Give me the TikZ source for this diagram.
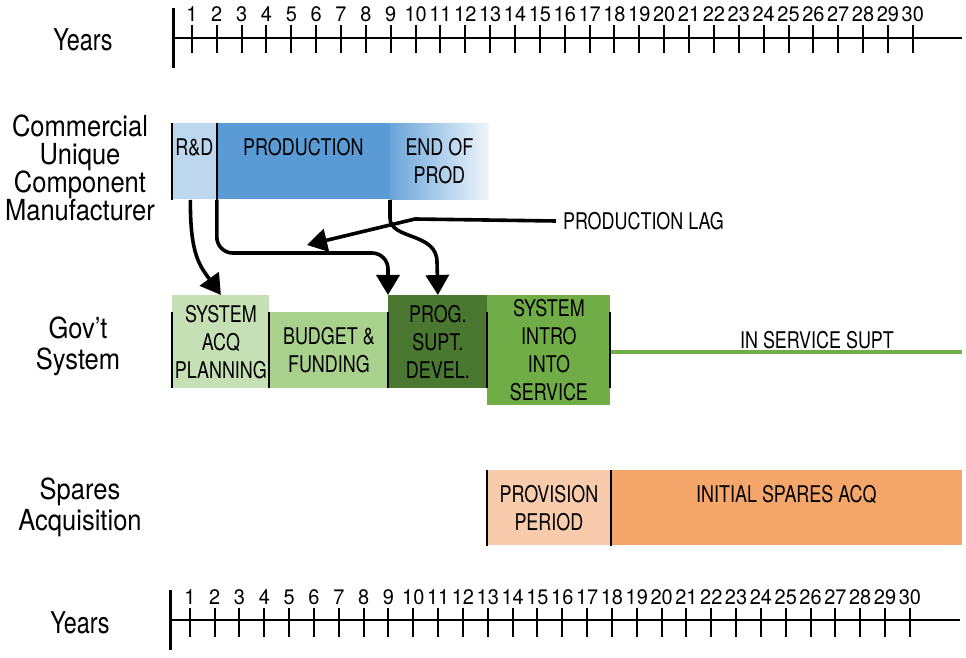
\documentclass[tikz,border=0pt]{standalone}
\usepackage{fontspec}
\setmainfont[FakeStretch=0.78]{TeX Gyre Heros}
\newfontfamily\sidefont[FakeStretch=0.88]{TeX Gyre Heros}
\newfontfamily\numfont[FakeStretch=0.95]{TeX Gyre Heros}
\usetikzlibrary{arrows.meta,positioning}
\definecolor{rdblue}{HTML}{BDD7EE}
\definecolor{prodblue}{HTML}{5B9BD5}
\definecolor{acqgreen}{HTML}{C5E0B4}
\definecolor{budgreen}{HTML}{A9D18E}
\definecolor{proggreen}{HTML}{4A7831}
\definecolor{introgreen}{HTML}{70AD47}
\definecolor{provpeach}{HTML}{F8CBAD}
\definecolor{spareorange}{HTML}{F4A66B}

\begin{document}
\begin{tikzpicture}[
    x=0.5pt, y=-0.5pt,
    >={Triangle[length=10pt,width=11.5pt]},
    bar/.style={anchor=north west,
                inner sep=0pt,
                align=center,
                font=\fontsize{11.5}{14}\selectfont},
    side/.style={align=center, font=\sidefont\fontsize{14.5}{14}\selectfont},
    years/.style={font=\fontsize{15}{18}\selectfont},
    num/.style={inner sep=0pt, font=\numfont\fontsize{10.5}{12}\selectfont},
    flow/.style={->, line width=1.8pt},
    sep/.style={line width=1.2pt},
    axis/.style={line width=1.3pt},
    tick/.style={line width=1pt}]

    \useasboundingbox (0,0) rectangle (966,658);

    % top time axis
    \node[years] (ytop) at (83,40) {Years};
    \draw[line width=1.5pt] (173,8) -- (173,68);
    \draw[axis] (173,38) -- (962,38);
    \foreach \n in {1,...,30} {
        \draw[tick] ({167+24.86*\n},25) -- ++(0,28);
        \node[num] (t\n) at ({167+24.86*\n},14) {\n};
    }

    % commercial manufacturer
    \node[side] (cucm) at (80,168) {Commercial\\Unique\\Component\\Manufacturer};
    \node[bar, fill=rdblue, minimum width=22pt, minimum height=38pt] (rd) at (172,123) {R\&D\\\mbox{}};
    \node[bar, fill=prodblue, minimum width=87pt, minimum height=38pt] (prod) at (216,123) {PRODUCTION\\\mbox{}};
    \node[bar, left color=prodblue!90, right color=rdblue!25, minimum width=49pt, minimum height=38pt] (eop) at (390,123) {END OF\\PROD};
    \draw[sep] (rd.north west) -- (rd.south west);
    \draw[sep] (rd.north east) -- (rd.south east);

    % gov't system
    \node[side, font=\sidefont\fontsize{14.5}{15.5}\selectfont] (gov) at (78,346) {Gov’t\\System};
    \node[bar, fill=acqgreen, minimum width=48.5pt, minimum height=46.5pt] (acq) at (172,295) {SYSTEM\\ACQ\\PLANNING};
    \node[bar, fill=budgreen, minimum width=59.5pt, minimum height=38pt] (bud) at (269,312) {BUDGET \&\\FUNDING};
    \node[bar, fill=proggreen, minimum width=49.5pt, minimum height=46.5pt] (prog) at (388,295) {PROG.\\SUPT.\\DEVEL.};
    \node[bar, fill=introgreen, minimum width=61.5pt, minimum height=55pt] (intro) at (487,295) {SYSTEM\\INTRO\\INTO\\SERVICE};
    \foreach \x in {172,269,388,487,610}
        \draw[sep] (\x,312) -- (\x,388);
    \coordinate (isend) at (962,352);
    \draw[introgreen, line width=2pt] (intro.east |- isend) -- (isend);
    \node[font=\fontsize{11.5}{14}\selectfont] (iss) at (817,340) {IN SERVICE SUPT};

    % spares acquisition
    \node[side, font=\sidefont\fontsize{14.5}{15.5}\selectfont] (spares) at (80,507) {Spares\\Acquisition};
    \node[bar, fill=provpeach, minimum width=61.5pt, minimum height=37.5pt] (prov) at (487,470) {PROVISION\\PERIOD};
    \node[bar, fill=spareorange, minimum width=176pt, minimum height=37.5pt] (isa) at (610,470) {INITIAL SPARES ACQ\\\mbox{}};
    \draw[sep] (prov.north west) -- (prov.south west);
    \draw[sep] (prov.north east) -- (prov.south east);

    % links
    \coordinate (bend) at (388,253);
    \coordinate (lagtip) at (307,245);
    \node[anchor=west, font=\fontsize{11.5}{14}\selectfont] (lag) at (556,221) {PRODUCTION LAG};
    \draw[flow] ([xshift=-2pt]rd.south) .. controls (190,255) and (200,266) .. (acq.north);
    \draw[flow, rounded corners=8pt] (rd.south east) |- (bend) -- (prog.north west);
    \draw[flow] (eop.south west) -- (390,218) .. controls (390,240) and (437,232) .. (437,262) -- (prog.north);
    \draw[flow] (lag.west) -- (415,219) -- (lagtip);

    % bottom time axis
    \node[years] (ybot) at (80,623) {Years};
    \draw[line width=1.5pt] (170,590) -- (170,650);
    \draw[axis] (170,620) -- (960,620);
    \foreach \n in {1,...,30} {
        \draw[tick] ({165+24.83*\n},608) -- ++(0,29);
        \node[num] (b\n) at ({165+24.83*\n},597) {\n};
    }
\end{tikzpicture}
\end{document}
